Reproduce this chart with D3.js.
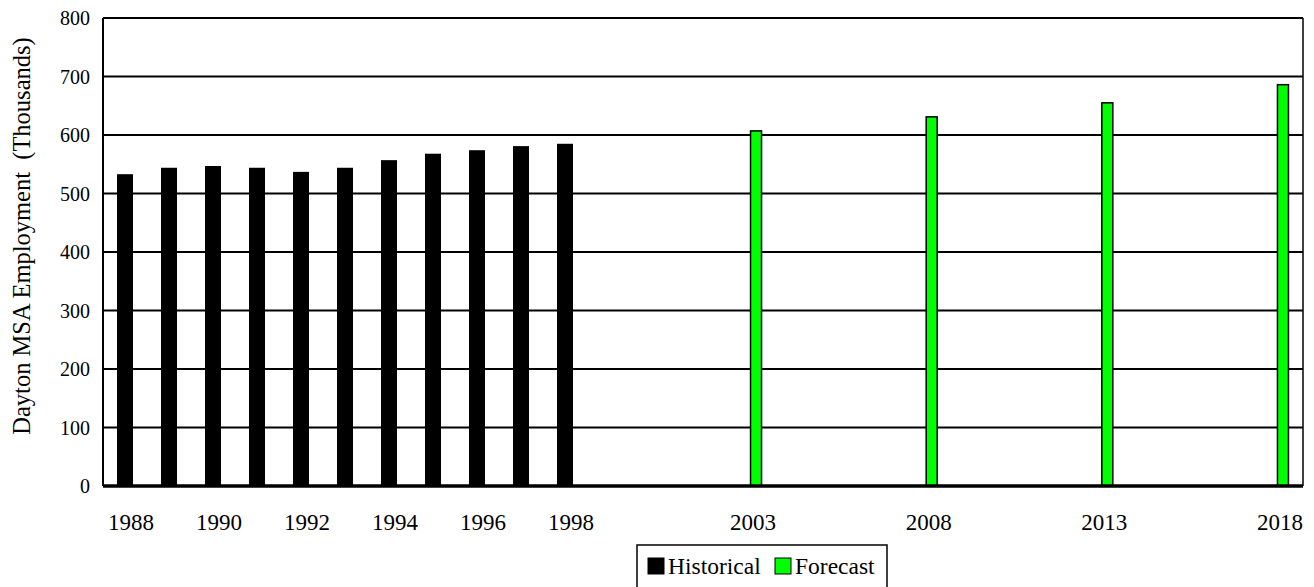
<!DOCTYPE html>
<html>
<head>
<meta charset="utf-8">
<script src="https://cdn.jsdelivr.net/npm/d3@7/dist/d3.min.js"></script>
<style>
  html, body { margin: 0; padding: 0; background: #fff; }
  svg { display: block; }
  svg text { font-family: "Liberation Serif", "DejaVu Serif", serif; fill: #000; }
</style>
</head>
<body>
<svg id="chart" width="1314" height="587"></svg>
<script>
// Dayton MSA employment, thousands
const historicalYears = [1988, 1989, 1990, 1991, 1992, 1993, 1994, 1995, 1996, 1997, 1998];
const historicalValues = [533, 544, 547, 544, 537, 544, 557, 568, 574, 581, 585];
const forecastYears = [2003, 2008, 2013, 2018];
const forecastValues = [607, 631, 655, 686];
const xTickYears = [1988, 1990, 1992, 1994, 1996, 1998, 2003, 2008, 2013, 2018];
const yTicks = [0, 100, 200, 300, 400, 500, 600, 700, 800];
const seriesNames = ["Historical", "Forecast"];
const seriesColors = ["#000000", "#00ff00"];

const svg = d3.select("#chart");
const margin = { left: 103, right: 11, top: 18, bottom: 101 };
const W = 1314 - margin.left - margin.right;
const H = 587 - margin.top - margin.bottom;

const g = svg.append("g").attr("transform", `translate(${margin.left},${margin.top})`);

// Yearly history is drawn at a wider spacing than the five-year forecast steps
const x = d3.scaleLinear()
  .domain([1988, 1998, 2003, 2018])
  .range([W * 0.01833, W * 0.385, W * 0.5442, W * 0.9833]);

const y = d3.scaleLinear().domain([0, 800]).range([H, 0]);

// horizontal gridlines
g.append("g")
  .selectAll("line")
  .data(yTicks.filter(d => d > 0 && d < 800))
  .join("line")
  .attr("x1", 0).attr("x2", W)
  .attr("y1", d => y(d)).attr("y2", d => y(d))
  .attr("stroke", "#000").attr("stroke-width", 2.2);

// plot frame
g.append("line").attr("x1", 0).attr("x2", W).attr("y1", y(800)).attr("y2", y(800))
  .attr("stroke", "#000").attr("stroke-width", 2);
g.append("line").attr("x1", W).attr("x2", W).attr("y1", y(800)).attr("y2", H)
  .attr("stroke", "#000").attr("stroke-width", 1.5);

// historical bars
const histW = 16;
g.append("g")
  .selectAll("rect")
  .data(historicalYears.map((yr, i) => ({ yr, v: historicalValues[i] })))
  .join("rect")
  .attr("x", d => x(d.yr) - histW / 2)
  .attr("width", histW)
  .attr("y", d => y(d.v))
  .attr("height", d => H - y(d.v))
  .attr("fill", seriesColors[0]);

// forecast bars
const fcW = 11;
g.append("g")
  .selectAll("rect")
  .data(forecastYears.map((yr, i) => ({ yr, v: forecastValues[i] })))
  .join("rect")
  .attr("x", d => x(d.yr) - fcW / 2)
  .attr("width", fcW)
  .attr("y", d => y(d.v))
  .attr("height", d => H - y(d.v))
  .attr("fill", seriesColors[1])
  .attr("stroke", "#000").attr("stroke-width", 1.5);

// left axis line
g.append("line").attr("x1", 0).attr("x2", 0).attr("y1", y(800)).attr("y2", H)
  .attr("stroke", "#000").attr("stroke-width", 2);
// bottom axis line
g.append("line").attr("x1", 0).attr("x2", W).attr("y1", H).attr("y2", H)
  .attr("stroke", "#000").attr("stroke-width", 3.5);

// y tick labels
g.append("g")
  .selectAll("text")
  .data(yTicks)
  .join("text")
  .attr("x", -13)
  .attr("y", d => y(d))
  .attr("dy", "0.35em")
  .attr("text-anchor", "end")
  .attr("font-size", 20)
  .text(d => d);

// x tick labels
g.append("g")
  .selectAll("text")
  .data(xTickYears)
  .join("text")
  .attr("x", d => x(d) + (d <= 1998 ? 6 : -3))
  .attr("y", H + 44)
  .attr("text-anchor", "middle")
  .attr("font-size", 23)
  .text(d => d);

// y axis title
svg.append("text")
  .attr("transform", `translate(30,${margin.top + 218}) rotate(-90)`)
  .attr("text-anchor", "middle")
  .attr("font-size", 24.5)
  .attr("xml:space", "preserve")
  .style("white-space", "pre")
  .text("Dayton MSA Employment  (Thousands)");

// legend
const legend = svg.append("g").attr("transform", "translate(637,545)");
legend.append("rect")
  .attr("x", 0).attr("y", 0).attr("width", 250).attr("height", 50)
  .attr("fill", "#fff").attr("stroke", "#000").attr("stroke-width", 1.5);
const items = [
  { name: seriesNames[0], color: seriesColors[0], sx: 11 },
  { name: seriesNames[1], color: seriesColors[1], sx: 138 }
];
const li = legend.selectAll("g.item").data(items).join("g").attr("class", "item")
  .attr("transform", d => `translate(${d.sx},13)`);
li.append("rect")
  .attr("width", 16).attr("height", 16)
  .attr("fill", d => d.color)
  .attr("stroke", "#000").attr("stroke-width", 1);
li.append("text")
  .attr("x", 20).attr("y", 16)
  .attr("font-size", 23.5)
  .text(d => d.name);
</script>
</body>
</html>
